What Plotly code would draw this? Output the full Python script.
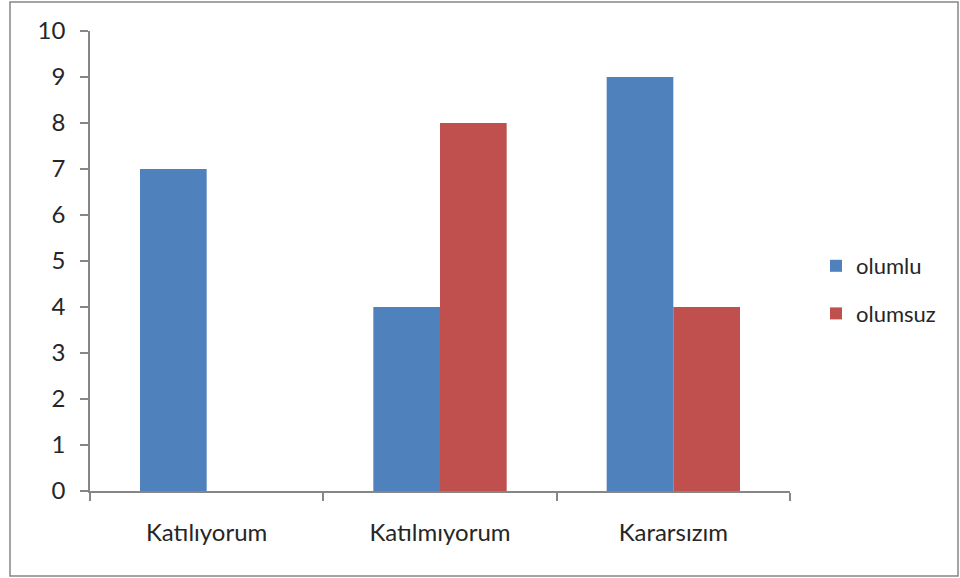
import plotly.graph_objects as go

categories = ["Katılıyorum", "Katılmıyorum", "Kararsızım"]
olumlu = [7, 4, 9]
olumsuz = [0, 8, 4]
y_ticks = list(range(0, 11))

W, H = 960, 578
L, R, T, B = 90, 170, 31, 87
pw, ph = W - L - R, H - T - B

def px_x(x):
    return (x - L) / pw

def px_y(y):
    return (H - B - y) / ph

axis_color = "#868686"
family = "Lato, Carlito, 'Open Sans', sans-serif"
text_color = "#262626"

fig = go.Figure()
fig.add_trace(go.Bar(x=categories, y=olumlu, name="olumlu",
                     marker=dict(color="#4F81BD", line=dict(width=0)),
                     legendgroup="a"))
fig.add_trace(go.Bar(x=categories, y=olumsuz, name="olumsuz",
                     marker=dict(color="#C0504D", line=dict(width=0)),
                     legendgroup="b"))

fig.update_layout(
    width=W, height=H,
    margin=dict(l=L, r=R, t=T, b=B),
    paper_bgcolor="white", plot_bgcolor="white",
    barmode="group", bargap=1.5 / 3.5, bargroupgap=0,
    font=dict(family=family, size=24, color=text_color),
    showlegend=True,
    legend=dict(x=px_x(816), y=px_y(245), xanchor="left", yanchor="top",
                traceorder="grouped", tracegroupgap=16,
                font=dict(family=family, size=22, color=text_color),
                bgcolor="rgba(0,0,0,0)"),
    xaxis=dict(showline=True, linecolor=axis_color, linewidth=1.5,
               ticks="outside", tickson="boundaries", ticklen=8,
               tickcolor=axis_color, tickwidth=1.5,
               tickfont=dict(size=24), ticklabelstandoff=19,
               showgrid=False, zeroline=False),
    yaxis=dict(range=[0, 10], tickvals=y_ticks, showline=True,
               linecolor=axis_color, linewidth=1.5, ticks="outside",
               ticklen=8, tickcolor=axis_color, tickwidth=1.5,
               tickfont=dict(size=24), ticklabelstandoff=10,
               showgrid=False, zeroline=False),
    shapes=[dict(type="rect", xref="paper", yref="paper",
                 x0=px_x(10), x1=px_x(958), y0=px_y(576), y1=px_y(2),
                 line=dict(color="#878787", width=1.5), layer="below")],
)

fig.write_html("out.html")
